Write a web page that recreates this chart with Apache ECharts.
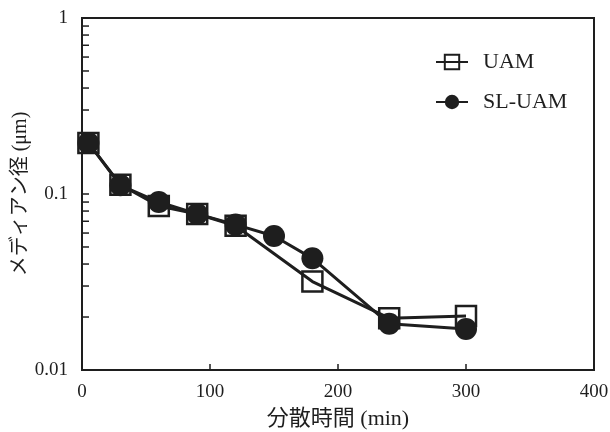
<!DOCTYPE html>
<html>
<head>
<meta charset="utf-8">
<script src="https://cdn.jsdelivr.net/npm/echarts@6/dist/echarts.min.js"></script>
<style>
html,body{margin:0;padding:0;background:#fff;}
#chart{width:610px;height:432px;}
</style>
</head>
<body>
<div id="chart"></div>
<script>
const timeMin = [5, 30, 60, 90, 120, 150, 180, 240, 300];
const uam = [0.195, 0.113, 0.0855, 0.077, 0.066, null, 0.0318, 0.0197, 0.0203];
const slUam = [0.195, 0.112, 0.090, 0.077, 0.067, 0.0577, 0.0431, 0.0183, 0.0171];
const yMinorTicks = [0.02,0.03,0.04,0.05,0.06,0.07,0.08,0.09,0.2,0.3,0.4,0.5,0.6,0.7,0.8,0.9];
const seriesNames = ['UAM', 'SL-UAM'];
const xAxisTitle = '分散時間 (min)';
const yAxisTitle = 'メディアン径 (μm)';

const ink = '#1e1e1e';
const serif = '"Liberation Serif", "Noto Sans CJK JP", serif';

const chart = echarts.init(document.getElementById('chart'), null, {renderer: 'canvas'});
chart.setOption({
  animation: false,
  backgroundColor: '#fff',
  grid: {left: 82, right: 16, top: 18, bottom: 62, containLabel: false, outerBoundsMode: 'none',
    show: true, borderColor: ink, borderWidth: 2, backgroundColor: 'transparent'},
  legend: {
    data: seriesNames,
    orient: 'vertical',
    left: 435, top: 51, padding: 0,
    itemWidth: 32, itemHeight: 18, itemGap: 18,
    textStyle: {fontFamily: serif, fontSize: 22, color: ink, padding: [0, 0, 0, 10]}
  },
  xAxis: {
    type: 'value', min: 0, max: 400, interval: 100,
    name: xAxisTitle, nameLocation: 'middle', nameGap: 38, nameMoveOverlap: false,
    nameTextStyle: {fontFamily: serif, fontSize: 22, color: ink},
    axisLine: {show: true, lineStyle: {color: ink, width: 2}},
    axisTick: {show: true, inside: true, length: 6, lineStyle: {color: ink, width: 1.5}},
    axisLabel: {fontFamily: serif, fontSize: 19, color: ink, margin: 13},
    splitLine: {show: false}
  },
  yAxis: {
    type: 'log', logBase: 10, min: 0.01, max: 1,
    name: yAxisTitle, nameLocation: 'middle', nameGap: 51, nameMoveOverlap: false,
    nameTextStyle: {fontFamily: serif, fontSize: 20, color: ink},
    axisLine: {show: true, lineStyle: {color: ink, width: 2}},
    axisTick: {show: true, inside: true, length: 7, lineStyle: {color: ink, width: 1.5}},
    axisLabel: {fontFamily: serif, fontSize: 19, color: ink, margin: 14,
      formatter: v => String(+v.toPrecision(3))},
    splitLine: {show: false}
  },
  series: [
    {
      type: 'custom',
      name: 'minorTicks',
      silent: true,
      clip: false,
      data: yMinorTicks.map(v => [0, v]),
      renderItem: (params, api) => {
        const p = api.coord([0, api.value(1)]);
        return {type: 'line', shape: {x1: p[0], y1: p[1], x2: p[0] + 7, y2: p[1]},
          style: {stroke: ink, lineWidth: 1.5}};
      }
    },
    {
      name: seriesNames[0], type: 'line',
      data: timeMin.map((t, i) => [t, uam[i]]),
      connectNulls: true,
      symbol: 'rect', symbolSize: 20,
      lineStyle: {color: ink, width: 3},
      itemStyle: {color: 'rgba(255,255,255,0)', borderColor: ink, borderWidth: 2.5},
      z: 3
    },
    {
      name: seriesNames[1], type: 'line',
      data: timeMin.map((t, i) => [t, slUam[i]]),
      symbol: 'circle', symbolSize: 22,
      lineStyle: {color: ink, width: 3},
      itemStyle: {color: ink, borderColor: ink, borderWidth: 0},
      z: 4
    }
  ]
});
</script>
</body>
</html>
